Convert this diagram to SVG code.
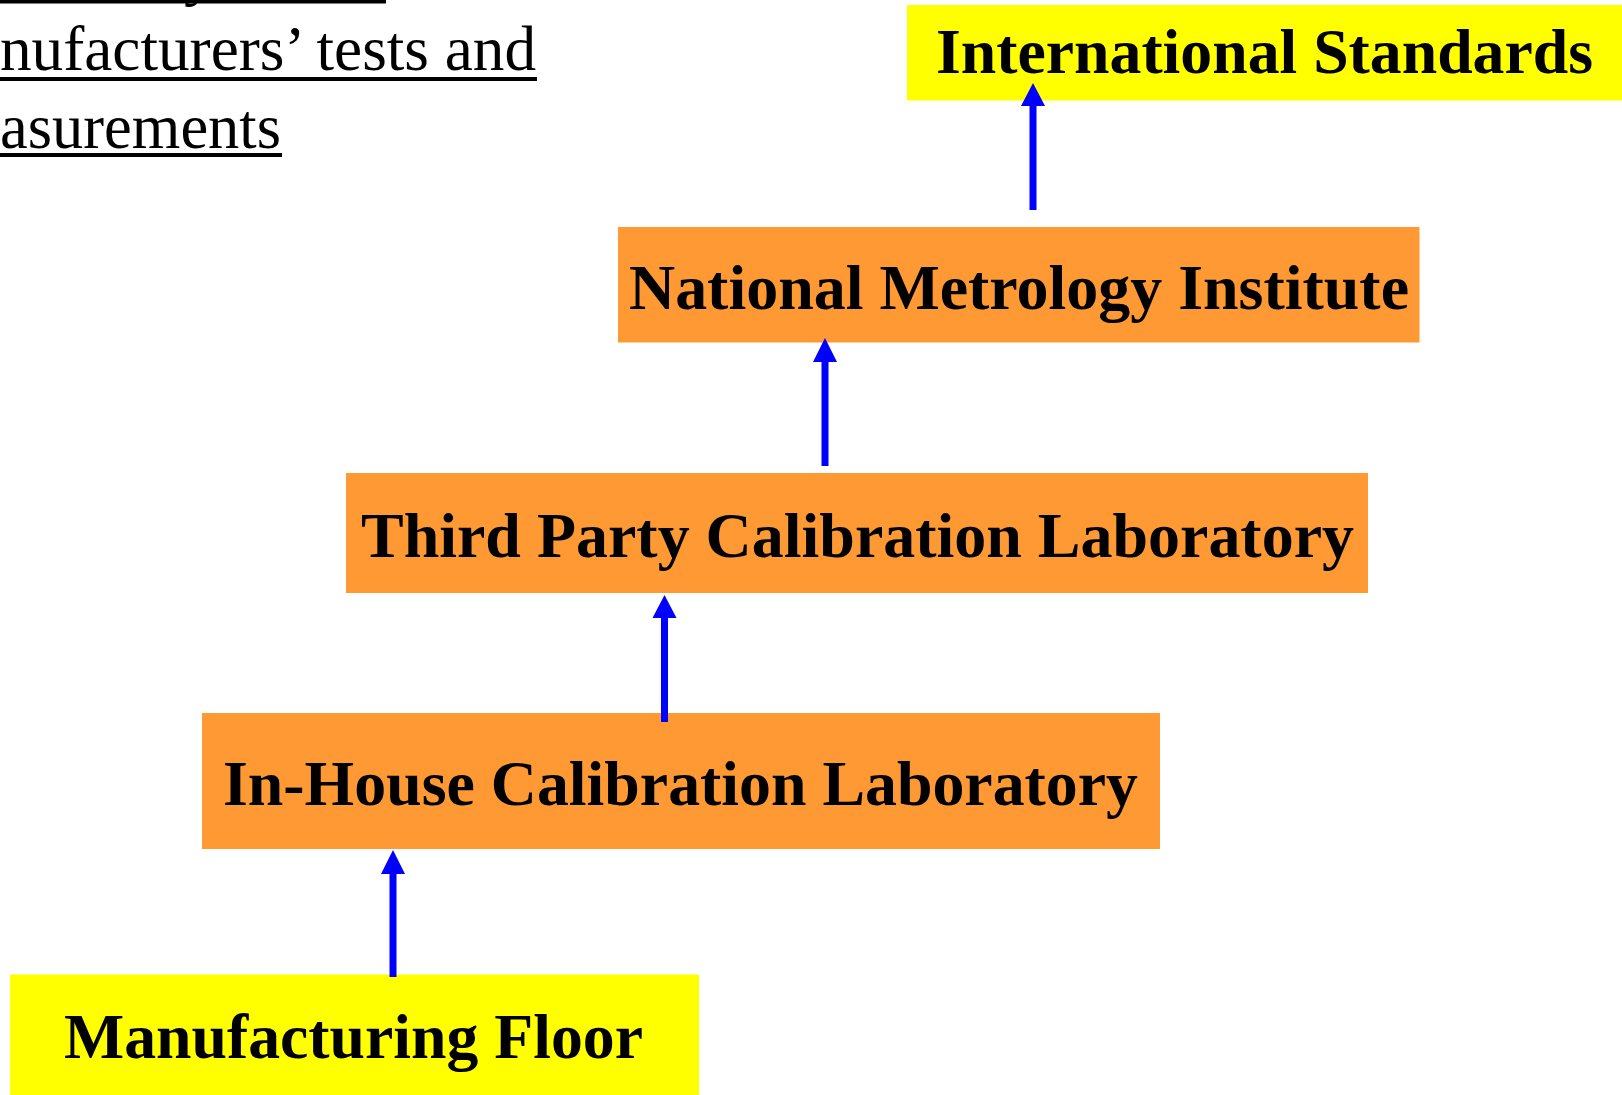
<svg xmlns="http://www.w3.org/2000/svg" width="1622" height="1095" viewBox="0 0 1622 1095">
  <defs>
    <style>
      .bg { fill: #ffffff; }
      .std { fill: #ffff00; }
      .lab { fill: #ff9933; }
      .label { font-family: "Liberation Serif", "Times New Roman", serif; font-weight: bold; font-size: 64px; fill: #000000; }
      .note { font-family: "Liberation Serif", "Times New Roman", serif; font-size: 64px; fill: #000000; }
      .rule { fill: #000000; }
      .link { stroke: #0000ff; stroke-width: 7; fill: none; }
      .head { fill: #0000ff; }
    </style>
  </defs>

  <rect class="bg" x="0" y="0" width="1622" height="1095"/>

  <!-- heading text at the top left, running off the page edge -->
  <g id="heading">
    <text class="note" x="184" y="-7">y</text>
    <rect class="rule" x="0" y="0" width="386" height="3.5"/>
    <text class="note" x="0" y="70" textLength="536" lengthAdjust="spacingAndGlyphs">nufacturers’ tests and</text>
    <rect class="rule" x="0" y="77" width="537" height="4"/>
    <text class="note" x="0" y="148" textLength="281" lengthAdjust="spacingAndGlyphs">asurements</text>
    <rect class="rule" x="0" y="153" width="282" height="4"/>
  </g>

  <!-- traceability chain -->
  <g id="node-manufacturing-floor">
    <rect class="std" x="10" y="974.5" width="689" height="121"/>
    <text class="label" x="64" y="1058" textLength="579" lengthAdjust="spacingAndGlyphs">Manufacturing Floor</text>
  </g>

  <g id="node-in-house-lab">
    <rect class="lab" x="202" y="713" width="958" height="136"/>
    <text class="label" x="223" y="805" textLength="915" lengthAdjust="spacingAndGlyphs">In-House Calibration Laboratory</text>
  </g>

  <g id="node-third-party-lab">
    <rect class="lab" x="346" y="473" width="1022" height="120"/>
    <text class="label" x="361" y="557" textLength="993" lengthAdjust="spacingAndGlyphs">Third Party Calibration Laboratory</text>
  </g>

  <g id="node-nmi">
    <rect class="lab" x="618" y="227" width="801.5" height="115.5"/>
    <text class="label" x="629" y="309" textLength="780" lengthAdjust="spacingAndGlyphs">National Metrology Institute</text>
  </g>

  <g id="node-international-standards">
    <rect class="std" x="907" y="5" width="715" height="95.5"/>
    <text class="label" x="936" y="73" textLength="657" lengthAdjust="spacingAndGlyphs">International Standards</text>
  </g>

  <!-- upward links -->
  <g id="connectors">
    <line class="link" x1="393" y1="977" x2="393" y2="870"/>
    <polygon class="head" points="393,850 381,874 405,874"/>

    <line class="link" x1="664.5" y1="722" x2="664.5" y2="614"/>
    <polygon class="head" points="664.5,595 652.5,618 676.5,618"/>

    <line class="link" x1="825" y1="466" x2="825" y2="358"/>
    <polygon class="head" points="825,338 813,362 837,362"/>

    <line class="link" x1="1033" y1="210" x2="1033" y2="102"/>
    <polygon class="head" points="1033,83 1021,106 1045,106"/>
  </g>
</svg>
